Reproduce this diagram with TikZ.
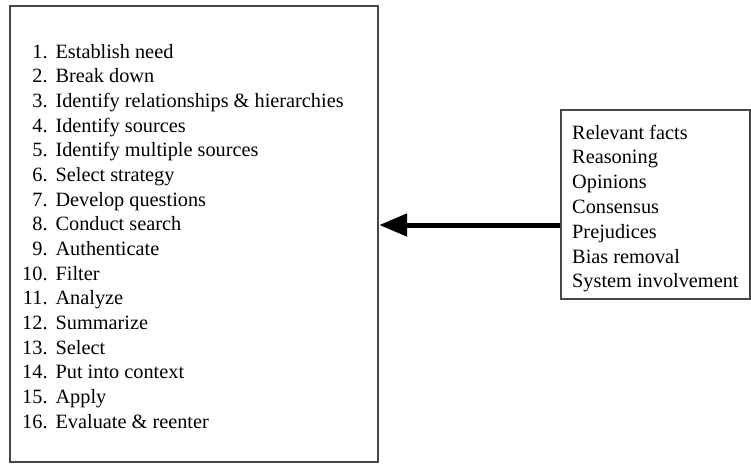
\documentclass[tikz,border=0pt]{standalone}
\usepackage{fontspec}
\setmainfont{Liberation Serif}
\usepackage{array}
\usetikzlibrary{arrows.meta}
\begin{document}
\begin{tikzpicture}[x=1pt,y=-1pt,
  frame/.style={draw=black!72, line width=2.2pt, inner sep=0pt},
  steptext/.style={inner sep=0pt, text=black, font=\fontsize{20.3}{24.67}\selectfont},
  facttext/.style={inner sep=0pt, text=black, font=\fontsize{20.3}{24.8}\selectfont},
  feed/.style={line width=5pt, draw=black, -{Triangle[length=28pt,width=22pt]}}]
\useasboundingbox[fill=white] (0,0) rectangle (751,466);

% outer frames
\node[frame, minimum width=368pt, minimum height=456pt, anchor=north west] (steps) at (9,5) {};
\node[frame, minimum width=189pt, minimum height=189pt, anchor=north west] (inputs) at (560,109) {};

% numbered process steps
\node[steptext, anchor=base west] (steplist) at (22,58) {%
\begin{tabular}[t]{@{}r@{\hspace{8pt}}l@{}}
1. & Establish need\\
2. & Break down\\
3. & Identify relationships \& hierarchies\\
4. & Identify sources\\
5. & Identify multiple sources\\
6. & Select strategy\\
7. & Develop questions\\
8. & Conduct search\\
9. & Authenticate\\
10. & Filter\\
11. & Analyze\\
12. & Summarize\\
13. & Select\\
14. & Put into context\\
15. & Apply\\
16. & Evaluate \& reenter
\end{tabular}};

% inputs feeding the process
\node[facttext, anchor=base west] (factlist) at (572,139) {%
\begin{tabular}[t]{@{}l@{}}
Relevant facts\\
Reasoning\\
Opinions\\
Consensus\\
Prejudices\\
Bias removal\\
System involvement
\end{tabular}};

% connector
\coordinate (src) at (inputs.west |- 0,225);
\draw[feed] (src) -- (steps.east |- src);
\end{tikzpicture}
\end{document}
